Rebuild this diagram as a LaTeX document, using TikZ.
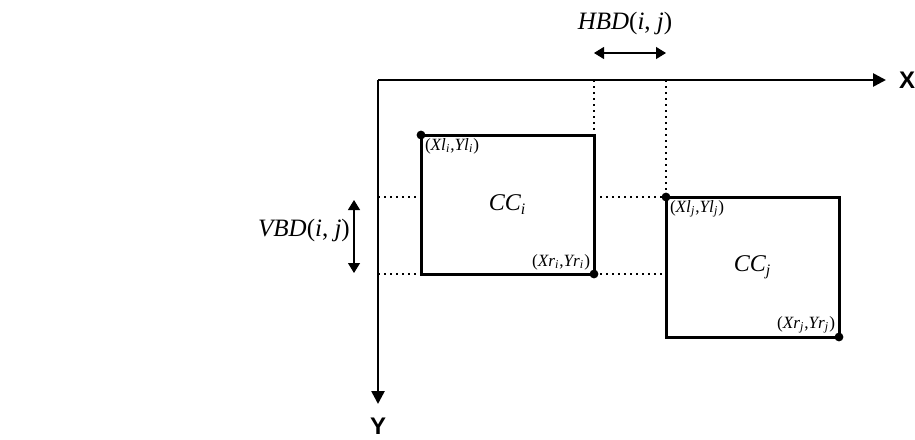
\documentclass[tikz,border=0pt]{standalone}
\usepackage{fontspec}
\setmainfont{Liberation Serif}
\newfontfamily\axisfont{Liberation Sans}
\usetikzlibrary{arrows.meta, calc}

\begin{document}
\begin{tikzpicture}[
    x=0.5pt, y=-0.5pt,
    axis/.style={line width=1.3pt, -{Triangle[length=6.5pt, width=6.5pt]}},
    ccbox/.style={line width=1.5pt},
    guide/.style={line width=0.7pt, dash pattern=on 0.8pt off 2.2pt},
    gap/.style={line width=0.6pt, {Triangle[length=5pt, width=6pt]}-{Triangle[length=5pt, width=6pt]}},
    dot/.style={circle, fill, inner sep=0pt, minimum size=4.4pt},
    corner/.style={font=\fontsize{8.6}{10}\selectfont, inner sep=1.8pt},
    cclabel/.style={font=\fontsize{12}{14}\selectfont},
    gaplabel/.style={font=\fontsize{12.5}{15}\selectfont},
    axislabel/.style={font=\axisfont\bfseries\fontsize{12}{14}\selectfont}
]
\useasboundingbox (0,0) rectangle (915,439);
\coordinate (o) at (378,80);
\coordinate (xtip) at (886,80);
\coordinate (ytip) at (378,404);
\node[axislabel] (xlab) at (907,80) {X};
\node[axislabel] (ylab) at (378,426) {Y};
\draw[axis] (o) -- (xtip);
\draw[axis] (o) -- (ytip);

\coordinate (tli) at (421,135);
\coordinate (bri) at (594,274);
\coordinate (tlj) at (666,197);
\coordinate (brj) at (839,337);

\draw[guide] (bri |- o) -- (bri |- tli);
\draw[guide] (tlj |- o) -- (tlj);
\draw[guide] (o |- tlj) -- (tli |- tlj);
\draw[guide] (bri |- tlj) -- (tlj);
\draw[guide] (o |- bri) -- (tli |- bri);
\draw[guide] (bri) -- (tlj |- bri);

\draw[ccbox] (tli) rectangle (bri);
\draw[ccbox] (tlj) rectangle (brj);
\node[cclabel] (cci) at ($(tli)!0.5!(bri)$) {\textit{CC\textsubscript{i}}};
\node[cclabel] (ccj) at ($(tlj)!0.5!(brj)$) {\textit{CC\textsubscript{j}}};

\node[dot] (pli) at (tli) {};
\node[dot] (pri) at (bri) {};
\node[dot] (plj) at (tlj) {};
\node[dot] (prj) at (brj) {};
\node[corner, anchor=north west] (lbli) at (tli) {(\textit{Xl\textsubscript{i}},\textit{Yl\textsubscript{i}})};
\node[corner, anchor=south east] (lbri) at (bri) {(\textit{Xr\textsubscript{i}},\textit{Yr\textsubscript{i}})};
\node[corner, anchor=north west] (lblj) at (tlj) {(\textit{Xl\textsubscript{j}},\textit{Yl\textsubscript{j}})};
\node[corner, anchor=south east] (lbrj) at (brj) {(\textit{Xr\textsubscript{j}},\textit{Yr\textsubscript{j}})};

\coordinate (hl) at (594,53);
\coordinate (hr) at (666,53);
\draw[gap] (hl) -- (hr);
\node[gaplabel] (hbd) at (625,23) {\textit{HBD}(\textit{i}, \textit{j})};
\coordinate (vt) at (354,200);
\coordinate (vb) at (354,273);
\draw[gap] (vt) -- (vb);
\node[gaplabel] (vbd) at (304,230) {\textit{VBD}(\textit{i}, \textit{j})};
\end{tikzpicture}
\end{document}
